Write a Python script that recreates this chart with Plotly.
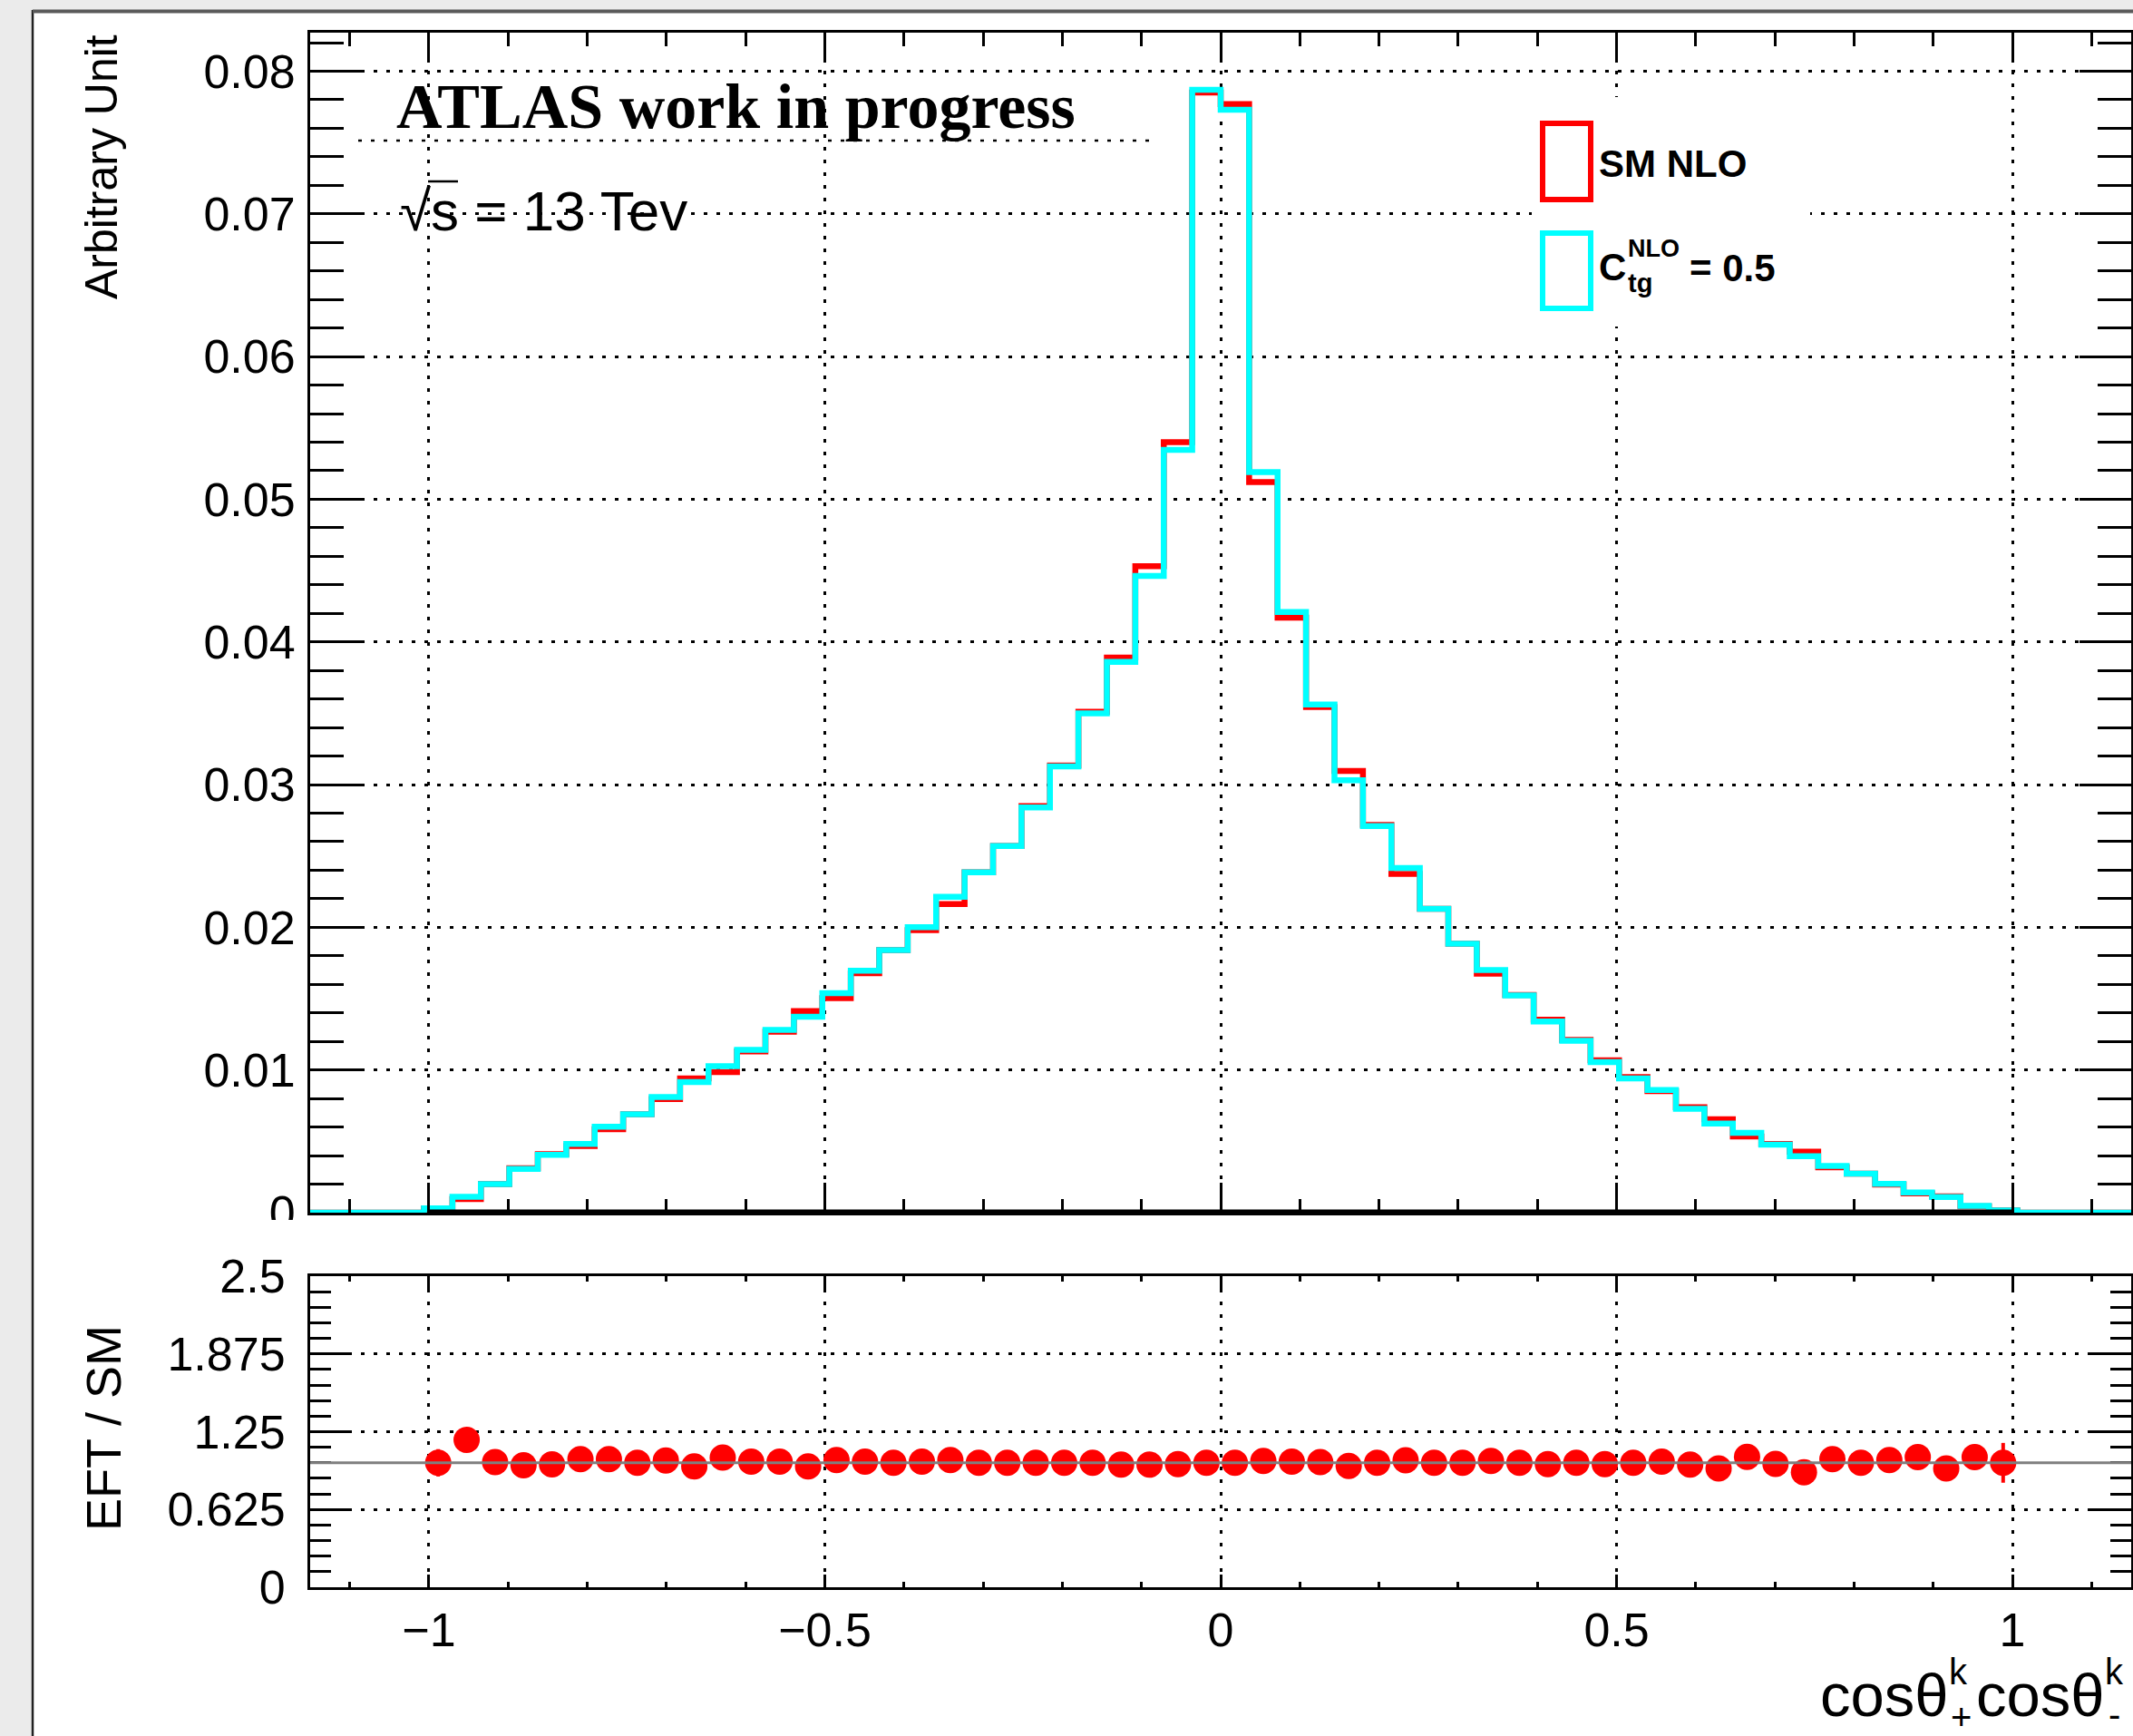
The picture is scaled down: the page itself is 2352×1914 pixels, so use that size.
import numpy as np
import plotly.graph_objects as go

W, H = 2352, 1914

# ---------------- data ----------------
x_lo, x_hi, n_bins = -1.15, 1.15, 64          # histogram axis definition

sm_values = [
    0, 0, 0, 0,
    0.0003, 0.00095, 0.0020, 0.00312, 0.0041, 0.00468, 0.00585, 0.0069,
    0.00796, 0.00941, 0.00985, 0.0113, 0.01268, 0.01413, 0.01503, 0.01678,
    0.0184, 0.0198, 0.02163, 0.02385, 0.0257, 0.0285, 0.03134, 0.0351,
    0.0389, 0.0453, 0.0540, 0.0785, 0.0777, 0.0512, 0.0417, 0.03544,
    0.03096, 0.02718, 0.02375, 0.0213, 0.01885, 0.01675, 0.01525, 0.01353,
    0.01211, 0.01068, 0.0095, 0.00852, 0.00739, 0.00655, 0.00534, 0.00481,
    0.00428, 0.00318, 0.00273, 0.00197, 0.00135, 0.00115, 0.00045, 0.00016,
    0, 0, 0, 0,
]

eft_values = [
    0, 0, 0, 0,
    0.0003, 0.00112, 0.00201, 0.00306, 0.00405, 0.00482, 0.00603, 0.0069,
    0.0081, 0.00915, 0.01027, 0.01141, 0.01281, 0.01373, 0.01538, 0.01695,
    0.0184, 0.0200, 0.02213, 0.02385, 0.0257, 0.0284, 0.03128, 0.0350,
    0.0386, 0.04462, 0.05346, 0.0787, 0.0773, 0.0519, 0.0421, 0.03561,
    0.0303, 0.0271, 0.02415, 0.0213, 0.01885, 0.0170, 0.01522, 0.0134,
    0.01205, 0.01055, 0.0094, 0.0086, 0.00728, 0.00625, 0.0056, 0.00477,
    0.00395, 0.00328, 0.00273, 0.00202, 0.00141, 0.0011, 0.00047, 0.00016,
    0, 0, 0, 0,
]

ratio_first_bin = 4
ratio_values = [
    1.0, 1.184, 1.005, 0.98, 0.987, 1.03, 1.03, 1.0, 1.018, 0.972,
    1.043, 1.01, 1.01, 0.972, 1.023, 1.01, 1.0, 1.01, 1.023, 1.0,
    1.0, 1.0, 1.0, 1.0, 0.985, 0.985, 0.99, 1.0, 1.0, 1.015,
    1.01, 1.005, 0.975, 1.0, 1.02, 1.0, 1.0, 1.015, 1.0, 0.99,
    1.0, 0.99, 1.0, 1.01, 0.985, 0.954, 1.048, 0.992, 0.923, 1.03,
    1.0, 1.023, 1.046, 0.954, 1.046, 1.0,
]
ratio_errors = [
    0.11, 0.07, 0.05, 0.04, 0.035, 0.032, 0.03, 0.028, 0.026, 0.024,
    0.023, 0.022, 0.021, 0.02, 0.019, 0.018, 0.018, 0.017, 0.016, 0.016,
    0.015, 0.014, 0.013, 0.012, 0.011, 0.01, 0.009, 0.008, 0.008, 0.009,
    0.01, 0.011, 0.012, 0.013, 0.014, 0.015, 0.016, 0.017, 0.018, 0.019,
    0.02, 0.021, 0.022, 0.024, 0.026, 0.028, 0.03, 0.033, 0.036, 0.04,
    0.045, 0.05, 0.06, 0.075, 0.1, 0.16,
]

top_y_range = [0, 0.0827]
ratio_y_range = [0, 2.5]
ratio_tickvals = [0, 0.625, 1.25, 1.875, 2.5]
ratio_ticktext = ["0", "0.625", "1.25", "1.875", "2.5"]
ref_line_x = [-1, 1]

# ---------------- helpers ----------------
edges = np.linspace(x_lo, x_hi, n_bins + 1)
centers = 0.5 * (edges[:-1] + edges[1:])


def step(vals):
    return list(edges), list(vals) + [vals[-1]]


def px(x):
    return x / W


def py(y):
    return 1 - y / H


FONT = "Liberation Sans"
RED = "#ff0000"
CYAN = "#00ffff"
GRIDDASH = "4px,10px"
TICKFONT = 52

fig = go.Figure()

sx, sy = step(sm_values)
fig.add_trace(go.Scatter(x=sx, y=sy, mode="lines", line=dict(color=RED, width=6.5, shape="hv"),
                         xaxis="x", yaxis="y", showlegend=False, hoverinfo="skip"))
ex, ey = step(eft_values)
fig.add_trace(go.Scatter(x=ex, y=ey, mode="lines", line=dict(color=CYAN, width=6.5, shape="hv"),
                         xaxis="x", yaxis="y", showlegend=False, hoverinfo="skip"))

rc = centers[ratio_first_bin:ratio_first_bin + len(ratio_values)]
fig.add_trace(go.Scatter(x=rc, y=ratio_values, mode="markers",
                         marker=dict(color=RED, size=29, line=dict(width=0)),
                         error_y=dict(type="data", array=ratio_errors, color=RED, thickness=4, width=0),
                         xaxis="x2", yaxis="y2", showlegend=False, hoverinfo="skip"))

xdom = [px(342), px(2350)]
common_x = dict(range=[x_lo, x_hi], domain=xdom, showline=True, linecolor="black", linewidth=3,
                mirror="allticks", ticks="inside", tickcolor="black", tickwidth=3,
                tick0=0, dtick=0.5, showgrid=True, gridcolor="black", gridwidth=2.5,
                griddash=GRIDDASH, zeroline=False, fixedrange=True, automargin=False)

fig.update_layout(
    width=W, height=H, autosize=False,
    margin=dict(l=0, r=0, t=0, b=0, pad=0, autoexpand=False),
    showlegend=False,
    paper_bgcolor="white", plot_bgcolor="white",
    font=dict(family=FONT, color="black", size=48),
    xaxis=dict(common_x, anchor="y", ticklen=33, showticklabels=False,
               minor=dict(dtick=0.1, tick0=0, ticklen=15, tickwidth=3, tickcolor="black",
                          ticks="inside", showgrid=False)),
    yaxis=dict(domain=[py(1337), py(36)], range=top_y_range, anchor="x",
               showline=True, linecolor="black", linewidth=3, mirror="allticks",
               ticks="inside", ticklen=57, tickwidth=3, tickcolor="black",
               tick0=0, dtick=0.01, showgrid=True, gridcolor="black", gridwidth=2.5,
               griddash=GRIDDASH, zeroline=False, ticklabelstandoff=3, automargin=False,
               tickfont=dict(size=TICKFONT), fixedrange=True,
               minor=dict(dtick=0.002, tick0=0, ticklen=37, tickwidth=3, tickcolor="black",
                          ticks="inside", showgrid=False)),
    xaxis2=dict(common_x, anchor="y2", matches="x", ticklen=14, showticklabels=True,
                tickfont=dict(size=TICKFONT), ticklabelstandoff=0,
                minor=dict(dtick=0.1, tick0=0, ticklen=6, tickwidth=3, tickcolor="black",
                           ticks="inside", showgrid=False)),
    yaxis2=dict(domain=[py(1750), py(1407)], range=ratio_y_range, anchor="x2",
                showline=True, linecolor="black", linewidth=3, mirror="allticks",
                ticks="inside", ticklen=46, tickwidth=3, tickcolor="black",
                tickmode="array", tickvals=ratio_tickvals, ticktext=ratio_ticktext,
                showgrid=True, gridcolor="black", gridwidth=2.5, griddash=GRIDDASH,
                zeroline=False, ticklabelstandoff=14, tickfont=dict(size=TICKFONT),
                automargin=False, fixedrange=True,
                minor=dict(tickmode="linear", dtick=0.125, tick0=0, ticklen=23, tickwidth=3,
                           tickcolor="black", ticks="inside", showgrid=False)),
)

shapes = [
    # window chrome: grey strips and dark borders
    dict(type="rect", xref="paper", yref="paper", x0=0, x1=px(35), y0=0, y1=1,
         fillcolor="#ebebeb", line=dict(width=0), layer="above"),
    dict(type="rect", xref="paper", yref="paper", x0=0, x1=1, y0=py(11), y1=1,
         fillcolor="#ebebeb", line=dict(width=0), layer="above"),
    dict(type="line", xref="paper", yref="paper", x0=px(36), x1=px(36), y0=0, y1=py(11),
         line=dict(color="#222222", width=2.5), layer="above"),
    dict(type="line", xref="paper", yref="paper", x0=px(36), x1=1, y0=py(12.5), y1=py(12.5),
         line=dict(color="#5a5a5a", width=4), layer="above"),
    # clip lower half of the top-panel "0" label
    dict(type="rect", xref="paper", yref="paper", x0=px(190), x1=px(337), y0=py(1385), y1=py(1345),
         fillcolor="white", line=dict(width=0), layer="above"),
    # dotted line under the ATLAS label
    dict(type="line", xref="paper", yref="paper", x0=px(395), x1=px(1272), y0=py(155), y1=py(155),
         line=dict(color="black", width=2.5, dash=GRIDDASH), layer="above"),
    # sqrt overline
    dict(type="line", xref="paper", yref="paper", x0=px(472), x1=px(505), y0=py(200), y1=py(200),
         line=dict(color="black", width=2.5), layer="above"),
    # thick baseline from -1 to 1
    dict(type="line", xref="x", yref="y", x0=ref_line_x[0], x1=ref_line_x[1], y0=0, y1=0,
         line=dict(color="black", width=7), layer="above"),
    # ratio = 1 line
    dict(type="line", xref="paper", yref="y2", x0=xdom[0], x1=xdom[1], y0=1, y1=1,
         line=dict(color="#7f7f7f", width=3), layer="above"),
    # legend background and boxes
    dict(type="rect", xref="paper", yref="paper", x0=px(1689), x1=px(1996), y0=py(360), y1=py(107),
         fillcolor="white", line=dict(width=0), layer="above"),
    dict(type="rect", xref="paper", yref="paper", x0=px(1701), x1=px(1754), y0=py(220), y1=py(136),
         fillcolor="rgba(0,0,0,0)", line=dict(color=RED, width=6), layer="above"),
    dict(type="rect", xref="paper", yref="paper", x0=px(1701), x1=px(1754), y0=py(340), y1=py(257),
         fillcolor="rgba(0,0,0,0)", line=dict(color=CYAN, width=6), layer="above"),
]
fig.update_layout(shapes=shapes)


def ann(text, x, y, size, xanchor="left", yanchor="middle", family=FONT, angle=0):
    return dict(text=text, x=px(x), y=py(y), xref="paper", yref="paper", showarrow=False,
                xanchor=xanchor, yanchor=yanchor, textangle=angle,
                font=dict(family=family, size=size, color="black"), borderpad=0)


annotations = [
    ann("<b>ATLAS work in progress</b>", 436, 117, 70, family="Liberation Serif"),
    ann("√s = 13 Tev", 440, 232, 62),
    ann("<b>SM NLO</b>", 1762, 180, 42),
    ann("<b>C</b>", 1762, 294, 42),
    ann("<b>NLO</b>", 1794, 274, 27),
    ann("<b>tg</b>", 1794, 312, 29),
    ann("<b>= 0.5</b>", 1862, 295, 42),
    ann("Arbitrary Unit", 112, 184, 50, xanchor="center", angle=-90),
    ann("EFT / SM", 114, 1575, 54, xanchor="center", angle=-90),
    ann("cosθ", 2006, 1868, 67),
    ann("k", 2148, 1843, 40),
    ann("+", 2150, 1893, 40),
    ann("cosθ", 2178, 1868, 67),
    ann("k", 2320, 1843, 40),
    ann("-", 2324, 1890, 40),
]
fig.update_layout(annotations=annotations)

fig.write_html("out.html", post_script="document.body.style.margin='0';")
